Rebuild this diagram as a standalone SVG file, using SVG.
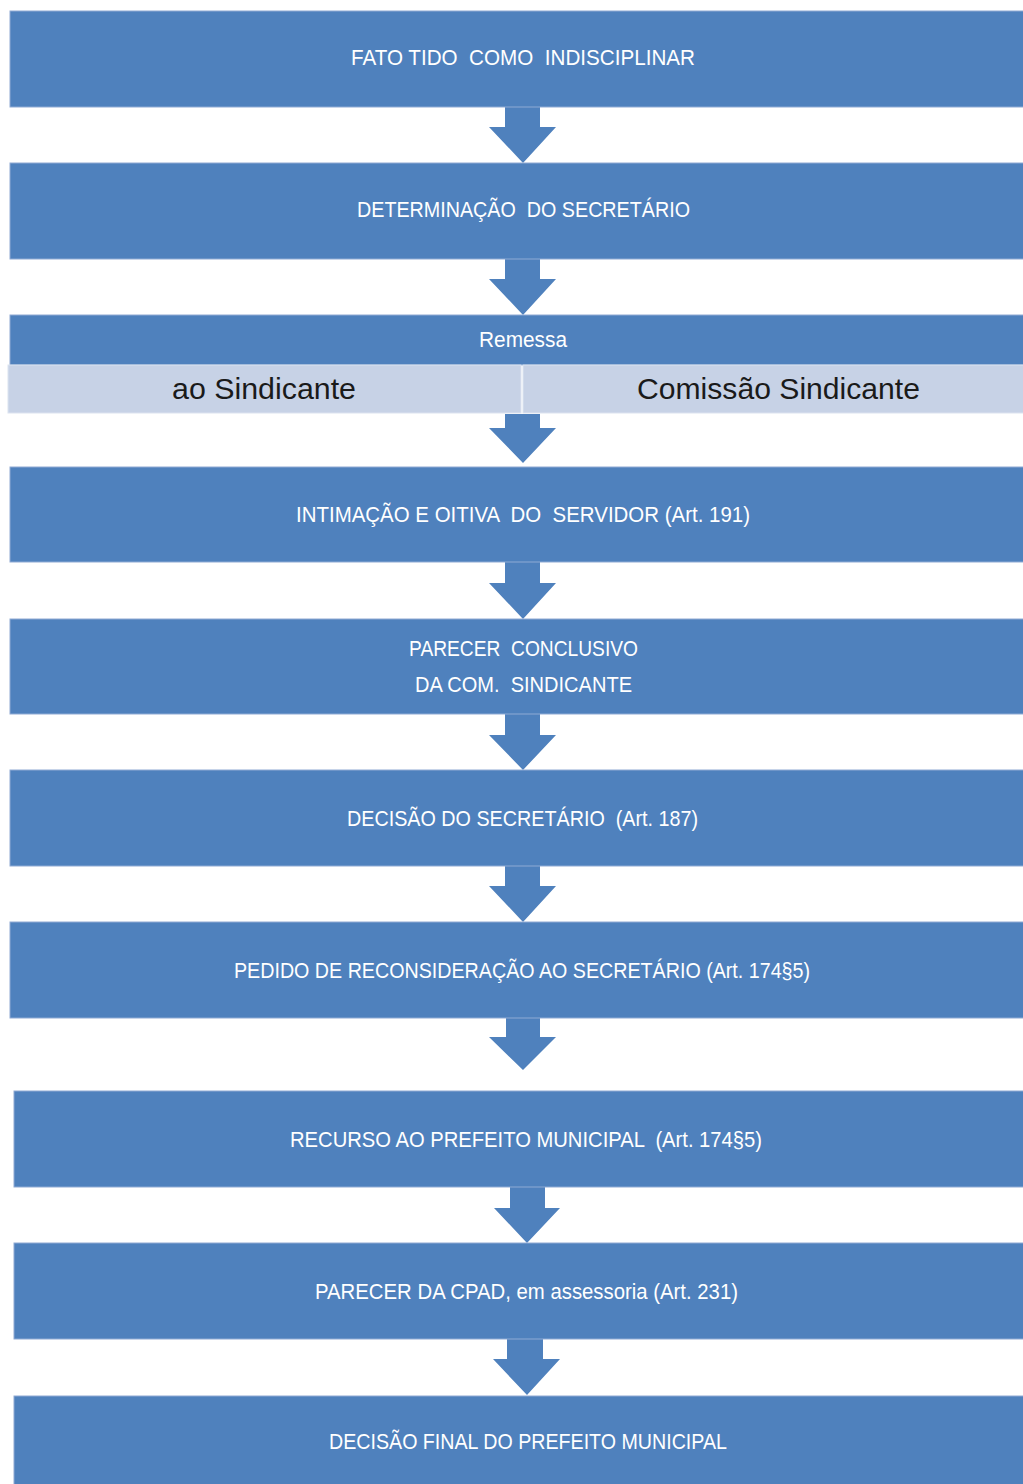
<svg xmlns="http://www.w3.org/2000/svg" width="1023" height="1484" viewBox="0 0 1023 1484">
<style>
.box{fill:#4F81BD;stroke:#8FAAD4;stroke-width:1}
.sub{fill:#C7D2E6;stroke:#DCE3F0;stroke-width:1}
.t{font-family:"Liberation Sans",Arial,sans-serif;font-size:21.5px;fill:#FFFFFF;text-anchor:middle;white-space:pre}
.d{font-family:"Liberation Sans",Arial,sans-serif;font-size:30px;fill:#1A1A1A;text-anchor:middle;white-space:pre}
.arr{fill:#4F81BD}
</style>
<rect width="1023" height="1484" fill="#FFFFFF"/>
<g id="connectors">
<path class="arr" d="M505,107 H540 V127 H556 L523,163 L489,127 H505 Z"/>
<path class="arr" d="M505,259 H540 V279 H556 L523,315 L489,279 H505 Z"/>
<path class="arr" d="M505,414 H540 V428 H556 L523,463 L489,428 H505 Z"/>
<path class="arr" d="M505,562 H540 V583 H556 L523,619 L489,583 H505 Z"/>
<path class="arr" d="M505,714 H540 V735 H556 L523,770 L489,735 H505 Z"/>
<path class="arr" d="M505,866 H540 V886 H556 L523,922 L489,886 H505 Z"/>
<path class="arr" d="M506,1018 H540 V1037 H556 L523,1070 L489,1037 H506 Z"/>
<path class="arr" d="M510,1187 H545 V1208 H560 L527,1243 L494,1208 H510 Z"/>
<path class="arr" d="M507,1339 H543 V1359 H560 L527,1395 L493,1359 H507 Z"/>
</g>
<g id="n1"><rect class="box" x="10" y="11" width="1014" height="96"/><text class="t" x="523" y="65" textLength="344" lengthAdjust="spacingAndGlyphs">FATO TIDO  COMO  INDISCIPLINAR</text></g>
<g id="n2"><rect class="box" x="10" y="163" width="1014" height="96"/><text class="t" x="523.5" y="217" textLength="333" lengthAdjust="spacingAndGlyphs">DETERMINAÇÃO  DO SECRETÁRIO</text></g>
<g id="n3">
<rect class="box" x="10" y="315" width="1014" height="50"/>
<text class="t" x="523" y="347" textLength="88" lengthAdjust="spacingAndGlyphs">Remessa</text>
<rect class="sub" x="8" y="365" width="513" height="48"/>
<rect class="sub" x="523" y="365" width="501" height="48"/>
<text class="d" x="264" y="399" textLength="184" lengthAdjust="spacingAndGlyphs">ao Sindicante</text>
<text class="d" x="778.5" y="399" textLength="283" lengthAdjust="spacingAndGlyphs">Comissão Sindicante</text>
</g>
<g id="n4"><rect class="box" x="10" y="467" width="1014" height="95"/><text class="t" x="523" y="522" textLength="454" lengthAdjust="spacingAndGlyphs">INTIMAÇÃO E OITIVA  DO  SERVIDOR (Art. 191)</text></g>
<g id="n5"><rect class="box" x="10" y="619" width="1014" height="95"/><text class="t" x="523.5" y="656" textLength="229" lengthAdjust="spacingAndGlyphs">PARECER  CONCLUSIVO</text><text class="t" x="523.5" y="692" textLength="217" lengthAdjust="spacingAndGlyphs">DA COM.  SINDICANTE</text></g>
<g id="n6"><rect class="box" x="10" y="770" width="1014" height="96"/><text class="t" x="522.5" y="826" textLength="351" lengthAdjust="spacingAndGlyphs">DECISÃO DO SECRETÁRIO  (Art. 187)</text></g>
<g id="n7"><rect class="box" x="10" y="922" width="1014" height="96"/><text class="t" x="522" y="978" textLength="576" lengthAdjust="spacingAndGlyphs">PEDIDO DE RECONSIDERAÇÃO AO SECRETÁRIO (Art. 174§5)</text></g>
<g id="n8"><rect class="box" x="14" y="1091" width="1010" height="96"/><text class="t" x="526" y="1147" textLength="472" lengthAdjust="spacingAndGlyphs">RECURSO AO PREFEITO MUNICIPAL  (Art. 174§5)</text></g>
<g id="n9"><rect class="box" x="14" y="1243" width="1010" height="96"/><text class="t" x="526.5" y="1299" textLength="423" lengthAdjust="spacingAndGlyphs">PARECER DA CPAD, em assessoria (Art. 231)</text></g>
<g id="n10"><rect class="box" x="14" y="1396" width="1010" height="90"/><text class="t" x="528" y="1449" textLength="398" lengthAdjust="spacingAndGlyphs">DECISÃO FINAL DO PREFEITO MUNICIPAL</text></g>
</svg>
